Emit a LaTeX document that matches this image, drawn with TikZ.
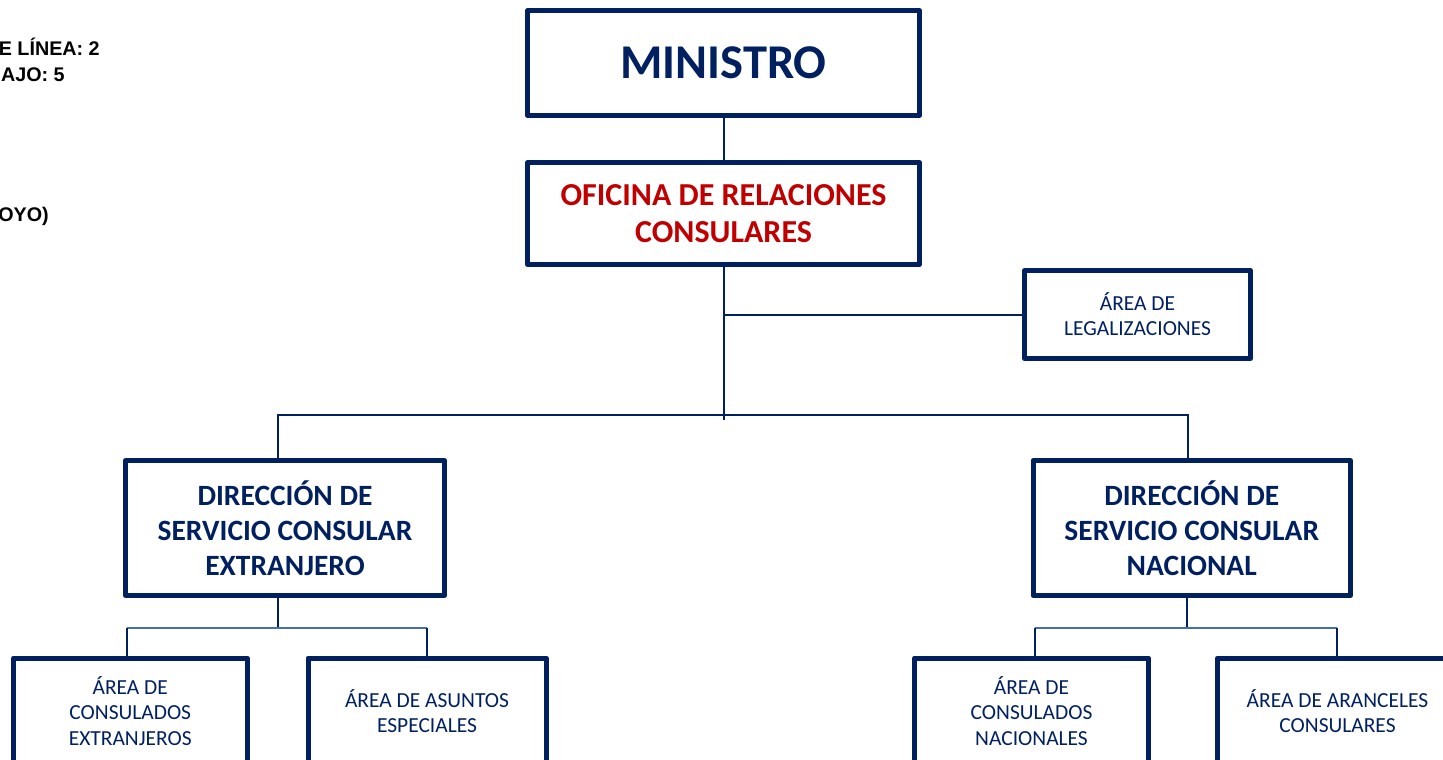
\documentclass[tikz,border=0pt]{standalone}
\usepackage{fontspec}
\setmainfont{Carlito}
\newfontfamily\arialfont{Liberation Sans}
\usetikzlibrary{calc}
\definecolor{navy}{RGB}{0,32,96}
\definecolor{ored}{RGB}{192,0,0}
\definecolor{lblue}{RGB}{70,110,180}
\begin{document}
\begin{tikzpicture}[x=0.75pt,y=-0.75pt,
  box/.style={draw=navy,line width=3.75pt,line join=round,align=center,text=navy,inner sep=0pt},
  bigfont/.style={font=\bfseries\fontsize{36.4}{42}\selectfont},
  midfont/.style={font=\bfseries\fontsize{24}{27.75}\selectfont},
  dirfont/.style={font=\bfseries\fontsize{22.1}{26.25}\selectfont},
  smallfont/.style={font=\fontsize{16.1}{18.9}\selectfont},
  note/.style={anchor=base east,inner sep=0pt,font=\arialfont\bfseries\fontsize{14.8}{17}\selectfont},
  conn/.style={draw=navy,line width=1.5pt},
  lconn/.style={draw=lblue,line width=1.5pt}]
\useasboundingbox (0,0) rectangle (1443,760);
\clip (0,0) rectangle (1443,760);

% notes at top left (cut by the edge)
\node[note] (n1) at (100,55.7) {E LÍNEA: 2};
\node[note] (n2) at (65,81.5) {AJO: 5};
\node[note] (n3) at (49,221) {OYO)};

% boxes
\node[box,bigfont,minimum width=392*0.75pt,minimum height=105*0.75pt] (min) at (723.5,63) {MINISTRO};
\node[box,midfont,text=ored,minimum width=392*0.75pt,minimum height=102*0.75pt] (ofi) at (723.5,213.5) {OFICINA DE RELACIONES\\CONSULARES};
\node[box,smallfont,minimum width=226*0.75pt,minimum height=88*0.75pt] (leg) at (1137.5,314.5) {ÁREA DE\\LEGALIZACIONES};
\node[box,dirfont,minimum width=319*0.75pt,minimum height=135*0.75pt] (ext) at (285,528) {DIRECCIÓN DE\\SERVICIO CONSULAR\\EXTRANJERO};
\node[box,dirfont,minimum width=317.5*0.75pt,minimum height=135*0.75pt] (nac) at (1191.75,528) {DIRECCIÓN DE\\SERVICIO CONSULAR\\NACIONAL};
\node[box,smallfont,minimum width=233.5*0.75pt,minimum height=106*0.75pt] (cex) at (130.25,711) {ÁREA DE\\CONSULADOS\\EXTRANJEROS};
\node[box,smallfont,minimum width=238*0.75pt,minimum height=106*0.75pt] (aes) at (427,711) {ÁREA DE ASUNTOS\\ESPECIALES};
\node[box,smallfont,minimum width=234*0.75pt,minimum height=106*0.75pt] (cna) at (1031.5,711) {ÁREA DE\\CONSULADOS\\NACIONALES};
\node[box,smallfont,minimum width=240*0.75pt,minimum height=106*0.75pt] (aar) at (1337.5,711) {ÁREA DE ARANCELES\\CONSULARES};

% connectors
\coordinate (bus) at (723.5,415);
\coordinate (busend) at (723.5,420);
\draw[conn] (min) -- (ofi);
\draw[conn] (ofi.south) -- (busend);
\draw[conn] (leg.west) -- (leg.west -| ofi.south);
\draw[conn] ([xshift=-7*0.75pt]ext.north) |- (bus) -| ([xshift=-3.75*0.75pt]nac.north);

\coordinate (busx) at (278,627.5);
\coordinate (busn) at (1187,627.5);
\draw[conn] ([xshift=-7*0.75pt]ext.south) -- (busx);
\draw[lconn] ([xshift=-3.25*0.75pt]cex.north |- busx) -- (aes.north |- busx);
\draw[conn] ([xshift=-3.25*0.75pt]cex.north) -- ([xshift=-3.25*0.75pt]cex.north |- busx);
\draw[conn] (aes.north) -- (aes.north |- busx);

\draw[conn] ([xshift=-4.75*0.75pt]nac.south) -- (busn);
\draw[lconn] ([xshift=3.5*0.75pt]cna.north |- busn) -- ([xshift=-0.5*0.75pt]aar.north |- busn);
\draw[conn] ([xshift=3.5*0.75pt]cna.north) -- ([xshift=3.5*0.75pt]cna.north |- busn);
\draw[conn] ([xshift=-0.5*0.75pt]aar.north) -- ([xshift=-0.5*0.75pt]aar.north |- busn);
\end{tikzpicture}
\end{document}
